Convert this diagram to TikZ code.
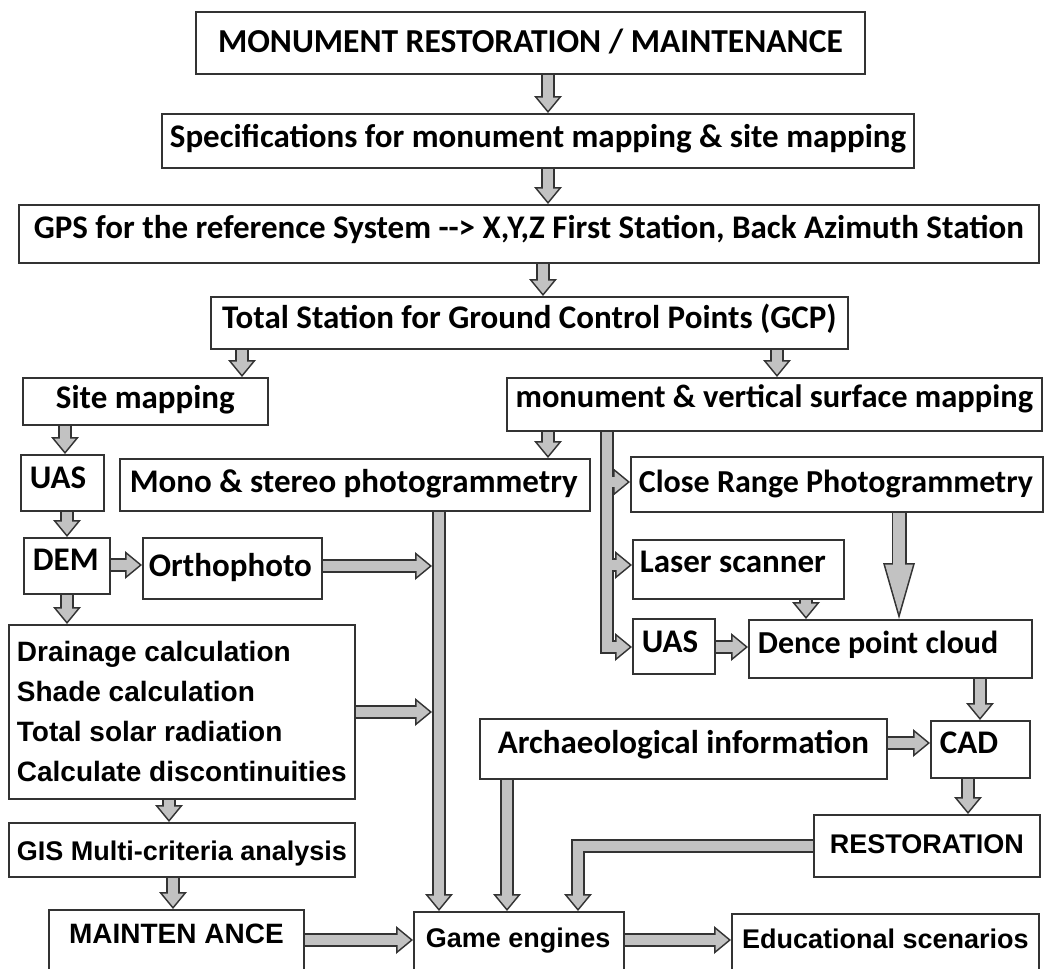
\documentclass[tikz,border=0pt]{standalone}
\usepackage{fontspec}
\setmainfont{Carlito}
\newfontfamily\arfam{Liberation Sans}
\usetikzlibrary{arrows.meta,calc,backgrounds}
\newcommand\cf{\bfseries\fontsize{33}{38}\selectfont}
\newcommand\cfs{\bfseries\fontsize{32}{38}\selectfont}
\newcommand\af{\arfam\bfseries\fontsize{27}{40}\selectfont}
\newcommand\afl{\arfam\bfseries\fontsize{28}{40}\selectfont}
\definecolor{edge}{HTML}{333333}
\definecolor{fillg}{HTML}{C2C2C2}
\tikzset{
 box/.style={draw=edge, line width=1.8pt, fill=white, inner xsep=8pt, inner ysep=0pt, anchor=north west, font=\cf},
 fo/.style={line width=14pt, draw=edge, -{Triangle[length=17pt,width=28pt,line width=0pt]}},
 fi/.style={line width=10.8pt, draw=fillg, shorten >=2.5pt, -{Triangle[length=12.9pt,width=21.2pt,line width=0pt]}},
 fs/.style={line width=10.8pt, draw=fillg, shorten >=12pt},
 bo/.style={line width=15pt, draw=edge, -{Triangle[length=56pt,width=32pt,line width=0pt]}},
 bi/.style={line width=11.8pt, draw=fillg, shorten >=5.8pt, -{Triangle[length=48.6pt,width=27.8pt,line width=0pt]}},
 bs/.style={line width=11.8pt, draw=fillg, shorten >=45pt},
}
\newcommand\fat[1]{\draw[fo] #1; \draw[fi] #1; \draw[fs] #1;}
% centred box: [opts]{name}{x1}{y1}{x2}{y2}{baseline}{text}
\newcommand\bxc[8][]{%
 \pgfmathsetmacro\bxTH{#7-#4}%
 \pgfmathsetmacro\bxTD{#6-#7}%
 \node[box,minimum width={#5-#3},text height=\bxTH pt,text depth=\bxTD pt,#1] (#2) at (#3,#4) {#8};}
% left box: [opts]{name}{x1}{y1}{x2}{y2}{baseline}{xsep}{text}
\newcommand\bxl[9][]{%
 \pgfmathsetmacro\bxTW{#5-#3-2*#8}%
 \pgfmathsetmacro\bxTH{#7-#4}%
 \pgfmathsetmacro\bxTD{#6-#7}%
 \node[box,inner xsep=#8pt,text height=\bxTH pt,text depth=\bxTD pt,#1] (#2) at (#3,#4) {\makebox[\bxTW pt][l]{#9}};}
\begin{document}
\begin{tikzpicture}[x=1pt,y=-1pt]
\useasboundingbox (0,0) rectangle (1053,969);
% boxes
\bxc[font=\bfseries\fontsize{33.5}{38}\selectfont]{top}{195}{11}{864}{73}{52}{MONUMENT RESTORATION / MAINTENANCE}
\bxc{spec}{161}{113}{907}{167}{147}{Specifications for monument mapping \& site mapping}
\bxc{gps}{18}{204}{1038}{262}{238}{GPS for the reference System -{}-> X,Y,Z First Station, Back Azimuth Station}
\bxc{ts}{210}{296}{847}{348}{328}{Total Station for Ground Control Points (GCP)}
\bxc{site}{22}{377}{267}{424}{408}{Site mapping}
\bxc[font=\bfseries\fontsize{32.5}{38}\selectfont]{mon}{506}{377}{1041}{430}{407}{monument \& vertical surface mapping}
\bxl{uas1}{20}{454}{103}{510}{488}{9}{UAS}
\bxl{mono}{119}{458}{589}{510}{492}{10}{Mono \& stereo photogrammetry}
\bxl{dem}{23}{537}{109}{593}{570}{9}{DEM}
\bxl{ortho}{142}{537}{321}{598}{576}{6}{Orthophoto}
\node[box,font=\afl,align=left,minimum width=345pt,minimum height=174pt] (drain) at (8,624)
 {Drainage calculation\\Shade calculation\\Total solar radiation\\Calculate discontinuities};
\bxc[font=\af]{gis}{8}{822}{353}{876}{860}{GIS Multi-criteria analysis}
\bxc[font=\afl]{maint}{48}{909}{303}{985}{943}{MAINTEN ANCE}
\bxl[font=\af]{game}{413}{911}{623}{985}{947}{12}{Game engines}
\bxc[font=\af]{edu}{731}{913}{1038}{985}{948}{Educational scenarios}
\bxl[font=\cfs]{clr}{630}{456}{1042}{511}{492}{8}{Close Range Photogrammetry}
\bxl{laser}{632}{539}{843}{598}{572}{7}{Laser scanner}
\bxl{uas2}{632}{618}{714}{673}{652}{9}{UAS}
\bxl[font=\cfs]{dence}{748}{619}{1031}{677}{653}{9}{Dence point cloud}
\bxc{arch}{479}{718}{886}{778}{753}{Archaeological information}
\bxl{cad}{930}{720}{1029}{777}{753}{9}{CAD}
\bxc[font=\af]{rest}{813}{814}{1039}{876}{853}{RESTORATION}
% helper coordinates
\coordinate (xa) at (548,0);
\coordinate (xb) at (543,0);
\coordinate (xc) at (242,0);
\coordinate (xd) at (777,0);
\coordinate (xe) at (65,0);
\coordinate (xf) at (67,0);
\coordinate (xg) at (439,0);
\coordinate (busL) at (432,0);
\coordinate (xh) at (169,0);
\coordinate (xi) at (173,0);
\coordinate (xj) at (607,0);
\coordinate (xk) at (806,0);
\coordinate (xl) at (899,0);
\coordinate (xm) at (980,0);
\coordinate (xn) at (968,0);
\coordinate (xo) at (578,0);
\coordinate (xp) at (507,0);
\coordinate (ya) at (0,565);
\coordinate (yb) at (0,566);
\coordinate (yc) at (0,712);
\coordinate (yd) at (0,940);
\coordinate (ye) at (0,482);
\coordinate (yf) at (0,647);
\coordinate (yg) at (0,743);
\coordinate (yh) at (0,846);
\begin{pgfonlayer}{background}
\fat{(top.south -| xa) -- (spec.north -| xa)}
\fat{(spec.south -| xa) -- (gps.north -| xa)}
\fat{(gps.south -| xb) -- (ts.north -| xb)}
\fat{(ts.south -| xc) -- (site.north -| xc)}
\fat{(ts.south -| xd) -- (mon.north -| xd)}
\fat{(site.south -| xe) -- (uas1.north -| xe)}
\fat{(uas1.south -| xf) -- (dem.north -| xf)}
\fat{(dem.east |- ya) -- (ortho.west |- ya)}
\fat{(mon.south -| xa) -- (mono.north -| xa)}
\fat{(mono.south -| xg) -- (game.north -| xg)}
\fat{(ortho.east |- yb) -- (busL |- yb)}
\fat{(dem.south -| xf) -- (drain.north -| xf)}
\fat{(drain.east |- yc) -- (busL |- yc)}
\fat{(drain.south -| xh) -- (gis.north -| xh)}
\fat{(gis.south -| xi) -- (maint.north -| xi)}
\fat{(maint.east |- yd) -- (game.west |- yd)}
\fat{(game.east |- yd) -- (edu.west |- yd)}
% monument bus
\draw[fo] (mon.south -| xj) |- (uas2.west |- yf);
\draw[fo] (xj |- ye) -- (clr.west |- ye);
\draw[fo] (xj |- ya) -- (laser.west |- ya);
\draw[fi] (mon.south -| xj) |- (uas2.west |- yf);
\draw[fi] (xj |- ye) -- (clr.west |- ye);
\draw[fi] (xj |- ya) -- (laser.west |- ya);
\draw[fs] (mon.south -| xj) |- (uas2.west |- yf);
\draw[fs] (xj |- ye) -- (clr.west |- ye);
\draw[fs] (xj |- ya) -- (laser.west |- ya);
\fat{(uas2.east |- yf) -- (dence.west |- yf)}
\fat{(laser.south -| xk) -- (dence.north -| xk)}
\draw[bo] (clr.south -| xl) -- (dence.north -| xl);
\draw[bi] (clr.south -| xl) -- (dence.north -| xl);
\draw[bs] (clr.south -| xl) -- (dence.north -| xl);
\fat{(dence.south -| xm) -- (cad.north -| xm)}
\fat{(arch.east |- yg) -- (cad.west |- yg)}
\fat{(cad.south -| xn) -- (rest.north -| xn)}
\fat{(rest.west |- yh) -| (game.north -| xo)}
\fat{(arch.south -| xp) -- (game.north -| xp)}
\end{pgfonlayer}
\end{tikzpicture}
\end{document}
